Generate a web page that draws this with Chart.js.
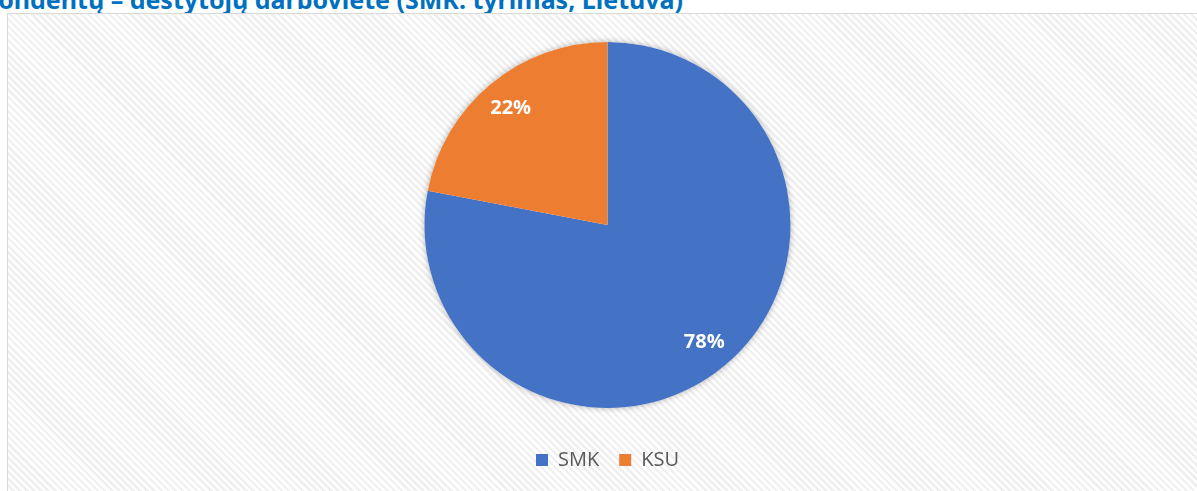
<!DOCTYPE html>
<html>
<head>
<meta charset="utf-8">
<script src="https://cdn.jsdelivr.net/npm/chart.js@4.4.1/dist/chart.umd.min.js"></script>
<style>
  html, body { margin: 0; padding: 0; width: 1197px; height: 491px; overflow: hidden; background: #fff; }
  #title {
    position: absolute; right: 514px; top: -13px; white-space: nowrap;
    font: bold 25px "Noto Sans", "Open Sans", sans-serif; line-height: 25px; color: #0070C0;
  }
  #frame {
    position: absolute; left: 7px; top: 13px; width: 1190px; height: 478px;
    box-sizing: border-box; border-left: 1px solid #d9d9d9; border-top: 1px solid #d9d9d9;
    background: repeating-linear-gradient(45deg, #ffffff 0px, #ffffff 2.5px, #f0f0f0 2.5px, #f0f0f0 5px);
  }
  #wrap { position: absolute; left: 0; top: 0; width: 1189px; height: 477px; }
</style>
</head>
<body>
<div id="title">Respondentų – dėstytojų darbovietė (SMK: tyrimas, Lietuva)</div>
<div id="frame"><div id="wrap"><canvas id="pie"></canvas></div></div>
<script>
  // chart data
  const categories = ['SMK', 'KSU'];
  const shares = [78, 22];
  const sliceColors = ['#4472C4', '#ED7D31'];

  // soft shadow under the pie
  const pieShadow = {
    id: 'pieShadow',
    beforeDatasetsDraw(chart) {
      const arc = chart.getDatasetMeta(0).data[0];
      if (!arc) return;
      const ctx = chart.ctx;
      ctx.save();
      ctx.shadowColor = 'rgba(0,0,0,0.3)';
      ctx.shadowBlur = 6;
      ctx.fillStyle = '#ffffff';
      ctx.beginPath();
      ctx.arc(arc.x, arc.y, arc.outerRadius, 0, Math.PI * 2);
      ctx.fill();
      ctx.restore();
    }
  };

  // percentage labels inside slices
  const sliceLabels = {
    id: 'sliceLabels',
    afterDatasetsDraw(chart) {
      const ctx = chart.ctx;
      const meta = chart.getDatasetMeta(0);
      ctx.save();
      ctx.fillStyle = '#ffffff';
      ctx.font = 'bold 20px "Open Sans", sans-serif';
      ctx.textAlign = 'center';
      ctx.textBaseline = 'middle';
      meta.data.forEach((arc, i) => {
        const mid = (arc.startAngle + arc.endAngle) / 2;
        const r = arc.outerRadius * 0.83;
        ctx.fillText(shares[i] + '%', arc.x + Math.cos(mid) * r, arc.y + Math.sin(mid) * r);
      });
      ctx.restore();
    }
  };

  new Chart(document.getElementById('pie'), {
    type: 'pie',
    data: {
      labels: categories,
      datasets: [{
        data: shares,
        backgroundColor: sliceColors,
        borderWidth: 0
      }]
    },
    options: {
      responsive: true,
      maintainAspectRatio: false,
      animation: false,
      layout: { padding: { top: 28, left: 10, right: 0, bottom: 11 } },
      plugins: {
        tooltip: { enabled: false },
        legend: {
          position: 'bottom',
          title: { display: true, text: '', font: { size: 10, lineHeight: 1 }, padding: { top: 12, bottom: 0 } },
          labels: {
            boxWidth: 12,
            boxHeight: 12,
            padding: 20,
            color: '#595959',
            font: { size: 20, family: '"Open Sans", sans-serif' }
          }
        }
      }
    },
    plugins: [pieShadow, sliceLabels]
  });
</script>
</body>
</html>
